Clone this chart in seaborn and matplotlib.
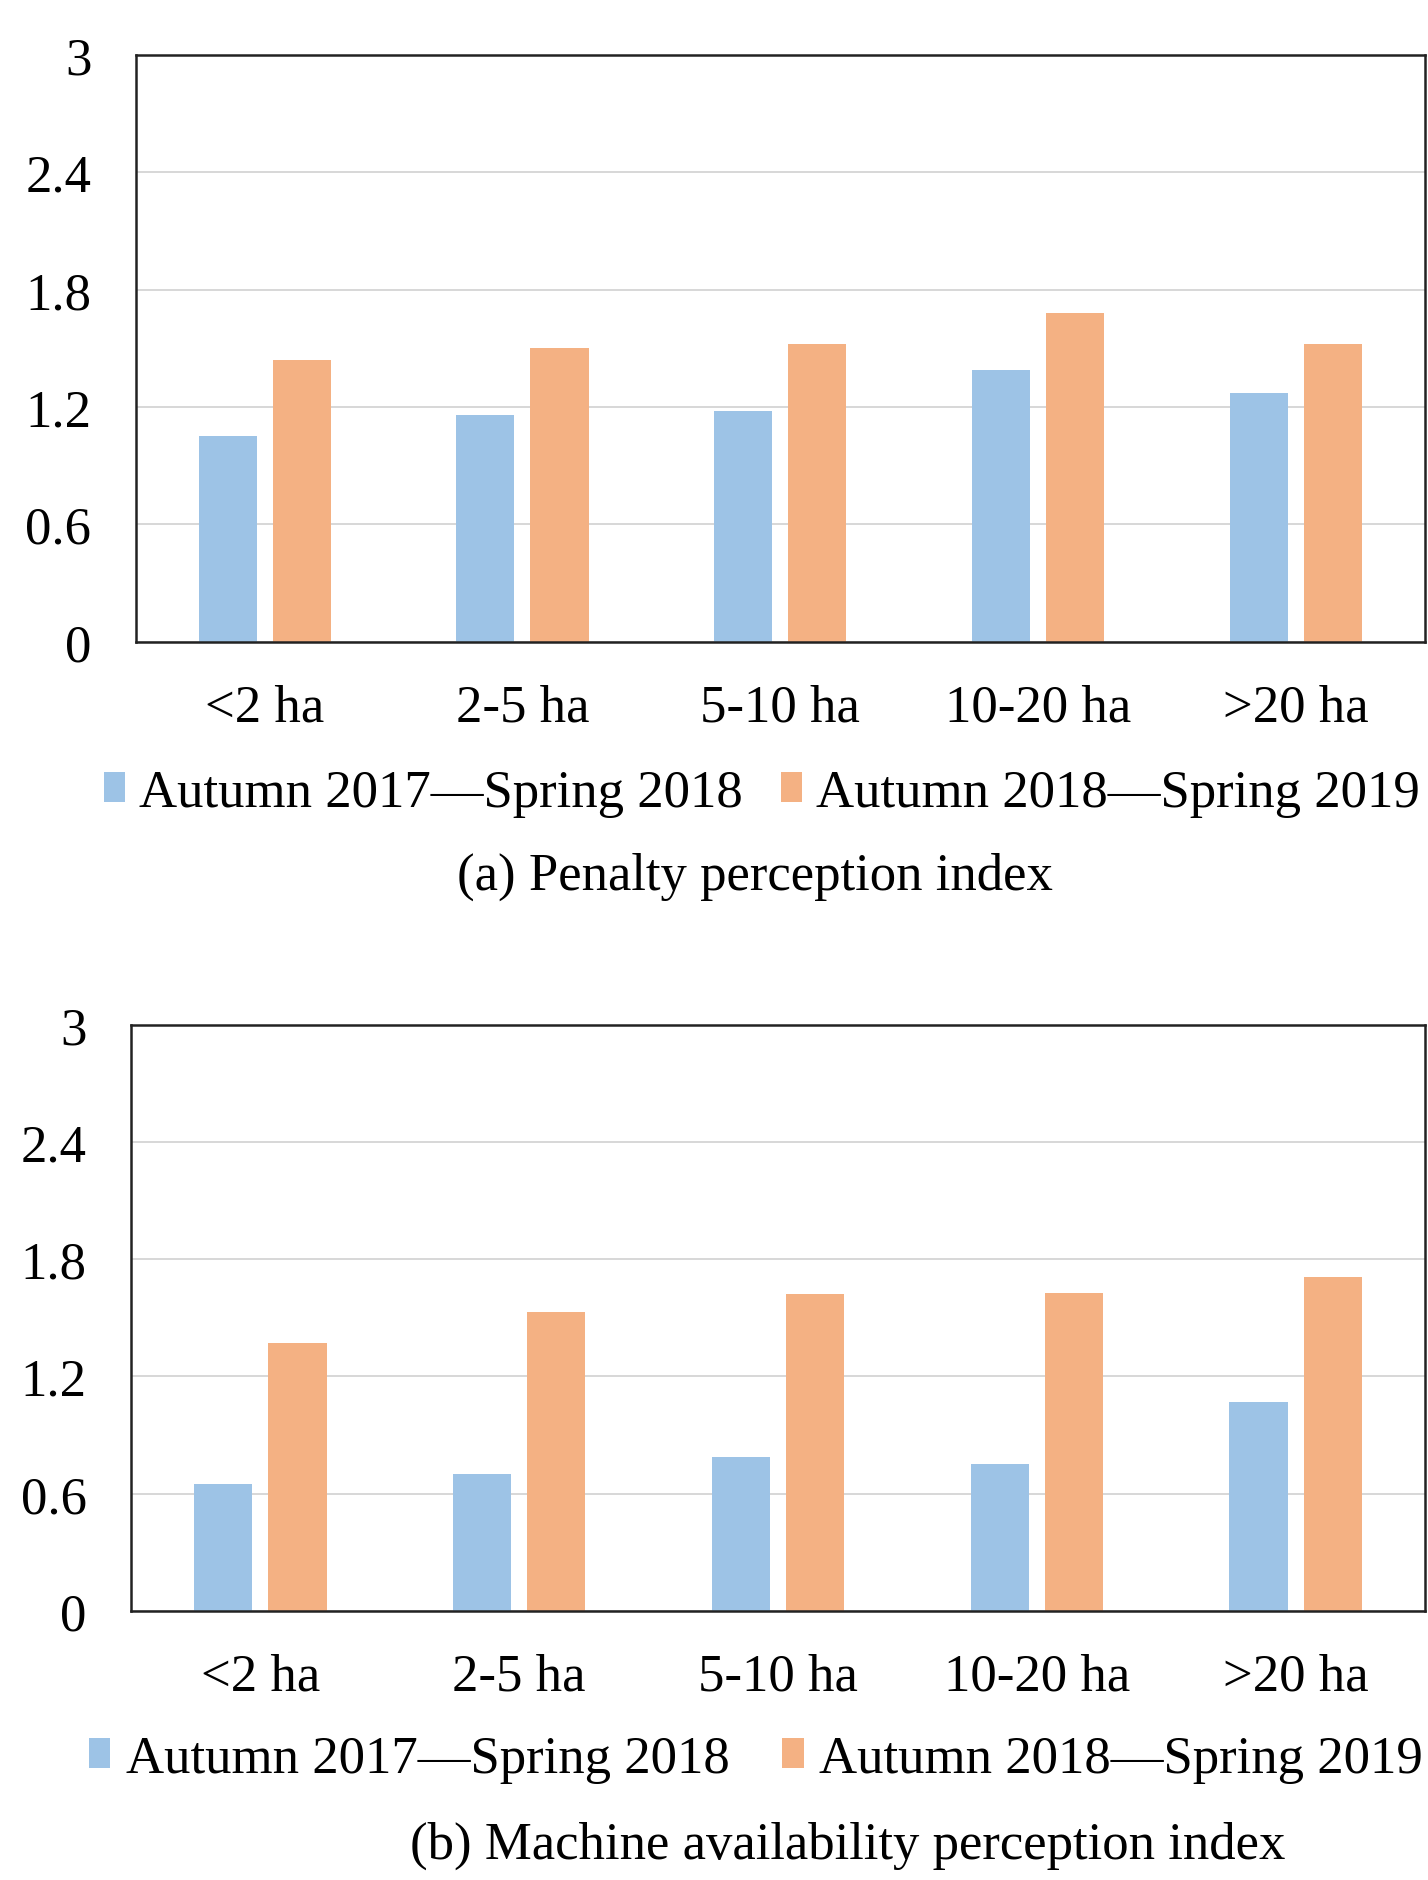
import matplotlib
matplotlib.use("Agg")
import matplotlib.pyplot as plt
import seaborn as sns
import pandas as pd

# Farm-size groups and survey periods
sizes = ["<2 ha", "2-5 ha", "5-10 ha", "10-20 ha", ">20 ha"]
periods = ["Autumn 2017\u2014Spring 2018", "Autumn 2018\u2014Spring 2019"]

# (a) Penalty perception index
penalty_2017 = [1.05, 1.16, 1.18, 1.39, 1.27]
penalty_2018 = [1.44, 1.50, 1.52, 1.68, 1.52]

# (b) Machine availability perception index
machine_2017 = [0.65, 0.70, 0.79, 0.75, 1.07]
machine_2018 = [1.37, 1.53, 1.62, 1.63, 1.71]

yticks = [0, 0.6, 1.2, 1.8, 2.4, 3]
ytick_labels = ["0", "0.6", "1.2", "1.8", "2.4", "3"]
captions = ["(a) Penalty perception index",
            "(b) Machine availability perception index"]
colors = ["#9DC3E6", "#F4B183"]

sns.set_style("white")
plt.rcParams["font.family"] = ["Liberation Serif", "DejaVu Serif"]
plt.rcParams["text.color"] = "black"

W, H = 1428, 1881
FS = 38
fig = plt.figure(figsize=(W / 100, H / 100), dpi=100)


def rect(left, top, right, bottom):
    return [left / W, 1 - bottom / H, (right - left) / W, (bottom - top) / H]


panels = [
    dict(box=(135.7, 55.8, 1425, 642.9), first=penalty_2017, second=penalty_2018,
         leg_x=104, leg_y=794, colsp=0.72, htp=0.27,
         cap_x=755, cap_y=877, caption=captions[0]),
    dict(box=(131, 1026, 1425, 1611.8), first=machine_2017, second=machine_2018,
         leg_x=89, leg_y=1760, colsp=1.0, htp=0.3,
         cap_x=848, cap_y=1846, caption=captions[1]),
]

for p in panels:
    df = pd.DataFrame({
        "size": sizes * 2,
        "period": [periods[0]] * len(sizes) + [periods[1]] * len(sizes),
        "value": p["first"] + p["second"],
    })
    ax = fig.add_axes(rect(*p["box"]))
    sns.barplot(data=df, x="size", y="value", hue="period", order=sizes,
                hue_order=periods, palette=colors, saturation=1,
                width=0.574, gap=0.216, linewidth=0, ax=ax)

    ax.set_xlim(-0.5, len(sizes) - 0.5)
    ax.set_ylim(0, 3)
    ax.set_yticks(yticks)
    ax.set_yticklabels(ytick_labels)
    ax.set_xlabel("")
    ax.set_ylabel("")

    ax.set_axisbelow(True)
    ax.yaxis.grid(True, color="#d4d4d4", linewidth=1.3)
    ax.xaxis.grid(False)
    for s in ax.spines.values():
        s.set_visible(True)
        s.set_color("#222222")
        s.set_linewidth(1.8)

    ax.tick_params(axis="both", length=0, labelsize=FS, colors="black")
    ax.tick_params(axis="y", pad=32)
    ax.tick_params(axis="x", pad=30)

    handles, labels = ax.get_legend_handles_labels()
    if ax.legend_ is not None:
        ax.legend_.remove()
    ax.legend(handles, labels, loc="center left",
              bbox_to_anchor=(p["leg_x"] / W, 1 - p["leg_y"] / H),
              bbox_transform=fig.transFigure, ncol=2, frameon=False,
              fontsize=FS, handlelength=0.4, handleheight=0.5,
              handletextpad=p["htp"], columnspacing=p["colsp"],
              borderpad=0, borderaxespad=0)

    fig.text(p["cap_x"] / W, 1 - p["cap_y"] / H, p["caption"],
             ha="center", va="center", fontsize=FS)

fig.savefig("out.png", dpi=100)
